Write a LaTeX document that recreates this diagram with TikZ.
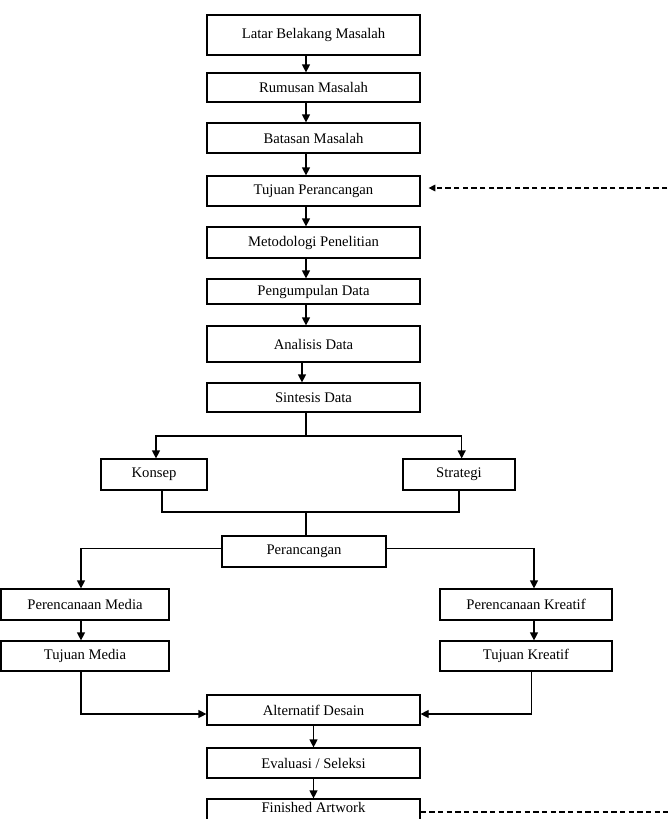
\documentclass[tikz,border=0pt]{standalone}
\usepackage{fontspec}
\setmainfont{Liberation Serif}
\usetikzlibrary{arrows.meta}

\tikzset{
  box/.style={draw, line width=0.9pt, inner sep=1pt, font=\fontsize{11}{13}\selectfont},
  flow/.style={line width=0.9pt, -{Triangle[length=6pt,width=6pt]}},
  link/.style={line width=0.9pt},
  feedback/.style={line width=0.8pt, dash pattern=on 4pt off 2.5pt, -{Triangle[length=5pt,width=5pt]}, shorten >=6pt}
}

\begin{document}
\begin{tikzpicture}[x=0.75pt, y=-0.75pt]
  \clip (0,0) rectangle (668,819);
  \coordinate (spine) at (306,0);
  \coordinate (loop) at (700,0);
  \coordinate (split) at (306,436);
  \coordinate (join) at (306,512);

  \node[box, minimum width=159.75pt, minimum height=30pt] (latar) at (313.5,35) {Latar Belakang Masalah};
  \node[box, minimum width=159.75pt, minimum height=21.75pt] (rumusan) at (313.5,87.5) {Rumusan Masalah};
  \node[box, minimum width=159.75pt, minimum height=22.5pt] (batasan) at (313.5,138) {Batasan Masalah};
  \node[box, minimum width=159.75pt, minimum height=22.5pt] (tujuan) at (313.5,191) {Tujuan Perancangan};
  \node[box, minimum width=159.75pt, minimum height=23.25pt] (metode) at (313.5,242.5) {Metodologi Penelitian};
  \node[box, minimum width=159.75pt, minimum height=18.75pt] (kumpul) at (313.5,291.5) {Pengumpulan Data};
  \node[box, minimum width=159.75pt, minimum height=27pt] (analisis) at (313.5,344) {Analisis Data};
  \node[box, minimum width=159.75pt, minimum height=21.75pt] (sintesis) at (313.5,397.5) {Sintesis Data};
  \node[box, minimum width=79.5pt, minimum height=23.25pt] (konsep) at (154,474.5) {Konsep};
  \node[box, minimum width=84pt, minimum height=23.25pt] (strategi) at (459,474.5) {Strategi};
  \node[box, minimum width=123pt, minimum height=23.25pt] (rancang) at (304,551.5) {Perancangan};
  \node[box, minimum width=126pt, minimum height=23.25pt] (pmedia) at (85,604.5) {Perencanaan Media};
  \node[box, minimum width=129pt, minimum height=23.25pt] (pkreatif) at (526,604.5) {Perencanaan Kreatif};
  \node[box, minimum width=126pt, minimum height=22.5pt] (tmedia) at (85,656) {Tujuan Media};
  \node[box, minimum width=129pt, minimum height=22.5pt] (tkreatif) at (526,656) {Tujuan Kreatif};
  \node[box, minimum width=159.75pt, minimum height=22.5pt] (alternatif) at (313.5,710) {Alternatif Desain};
  \node[box, minimum width=159.75pt, minimum height=22.5pt] (evaluasi) at (313.5,763) {Evaluasi / Seleksi};
  \node[box, minimum width=159.75pt, minimum height=22.5pt, text height=8.75pt, text depth=11.75pt] (finished) at (313.5,814) {Finished Artwork};

  \draw[flow] (latar.south -| spine) -- (rumusan.north -| spine);
  \draw[flow] (rumusan.south -| spine) -- (batasan.north -| spine);
  \draw[flow] (batasan.south -| spine) -- (tujuan.north -| spine);
  \draw[flow] (tujuan.south -| spine) -- (metode.north -| spine);
  \draw[flow] (metode.south -| spine) -- (kumpul.north -| spine);
  \draw[flow] (kumpul.south -| spine) -- (analisis.north -| spine);
  \draw[flow] ([xshift=-3pt]analisis.south -| spine) -- ([xshift=-3pt]sintesis.north -| spine);

  \draw[link] (sintesis.south -| split) -- (split);
  \draw[flow] (split) -| ([xshift=1.5pt]konsep.north);
  \draw[flow] (split) -| ([xshift=2pt]strategi.north);

  \draw[link] ([xshift=6pt]konsep.south) |- (join);
  \draw[link] (strategi.south) |- (join);
  \draw[link] (join) -- (rancang.north -| join);

  \draw[flow] ([yshift=2.5pt]rancang.west) -| ([xshift=-3pt]pmedia.north);
  \draw[flow] ([yshift=2.5pt]rancang.east) -| ([xshift=6pt]pkreatif.north);
  \draw[flow] ([xshift=-3pt]pmedia.south) -- ([xshift=-3pt]tmedia.north);
  \draw[flow] ([xshift=6pt]pkreatif.south) -- ([xshift=6pt]tkreatif.north);
  \draw[flow] ([xshift=-3pt]tmedia.south) |- ([yshift=-3pt]alternatif.west);
  \draw[flow] ([xshift=4pt]tkreatif.south) |- ([yshift=-3pt]alternatif.east);
  \draw[flow] (alternatif) -- (evaluasi);
  \draw[flow] (evaluasi) -- (finished);

  \draw[feedback] ([yshift=1.5pt]finished.east) -- ([yshift=1.5pt]finished.east -| loop)
    -- ([yshift=2.25pt]tujuan.east -| loop) -- ([yshift=2.25pt]tujuan.east);
\end{tikzpicture}
\end{document}
